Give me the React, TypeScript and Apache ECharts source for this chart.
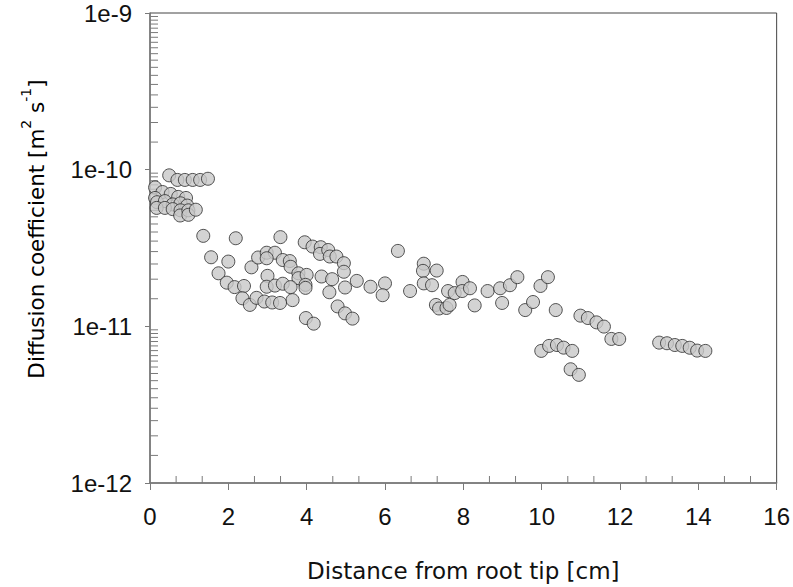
import React, { useEffect, useRef } from "react";
import * as echarts from "echarts";

// Distance from root tip [cm]
const distance: number[] = [
  0.49, 0.70, 0.89, 1.09, 1.28, 1.48,
  0.13, 0.32, 0.53, 0.72, 0.92,
  0.13, 0.18, 0.38, 0.58, 0.78, 0.95,
  0.17, 0.38, 0.58, 0.78, 0.77, 0.98, 0.98, 1.17,
  1.36, 2.19, 3.33, 1.56, 2.0, 1.75, 1.96, 2.16, 2.40, 2.36, 2.55, 2.59, 2.76, 2.98, 3.19, 2.98,
  3.39, 3.57, 3.59, 3.79, 3.79, 4.0, 3.97, 3.97, 3.0, 2.98, 3.19, 3.39, 3.59, 3.64, 2.72, 2.92,
  3.12, 3.32, 3.98, 4.18, 3.95, 4.15, 4.36, 4.34, 4.55, 4.59, 4.76, 4.95, 4.95, 4.38, 4.65, 4.98,
  4.58, 4.79, 4.98, 5.17, 5.28,
  6.33, 5.63, 6.0, 5.94, 6.64, 6.99, 6.97, 7.32, 6.99, 7.20, 7.30, 7.38, 7.57, 7.65, 7.61, 7.78,
  7.98, 7.97, 8.17, 8.29, 8.62, 8.94, 8.99, 9.19, 9.38, 9.58, 9.78, 9.97, 10.16, 10.36,
  9.99, 10.19, 10.39, 10.56, 10.78, 10.74, 10.95,
  10.99, 11.18, 11.40, 11.59, 11.78, 11.98,
  13.0, 13.2, 13.4, 13.59, 13.78, 13.97, 14.18,
];

// Diffusion coefficient [m2 s-1]
const diffusion: number[] = [
  9.2e-11, 8.6e-11, 8.6e-11, 8.6e-11, 8.6e-11, 8.75e-11,
  7.7e-11, 7.2e-11, 7.0e-11, 6.7e-11, 6.6e-11,
  6.6e-11, 6.2e-11, 6.3e-11, 6.0e-11, 6.1e-11, 5.9e-11,
  5.7e-11, 5.7e-11, 5.6e-11, 5.5e-11, 5.1e-11, 5.5e-11, 5.15e-11, 5.55e-11,
  3.78e-11, 3.65e-11, 3.71e-11, 2.76e-11, 2.59e-11, 2.18e-11, 1.90e-11, 1.78e-11, 1.81e-11, 1.51e-11, 1.37e-11, 2.38e-11, 2.75e-11, 2.95e-11, 2.95e-11, 2.72e-11,
  2.65e-11, 2.61e-11, 2.4e-11, 2.18e-11, 2.03e-11, 2.13e-11, 1.84e-11, 1.76e-11, 2.1e-11, 1.79e-11, 1.82e-11, 1.87e-11, 1.78e-11, 1.47e-11, 1.52e-11, 1.44e-11,
  1.42e-11, 1.41e-11, 1.13e-11, 1.04e-11, 3.44e-11, 3.23e-11, 3.2e-11, 2.9e-11, 3.07e-11, 2.79e-11, 2.79e-11, 2.53e-11, 2.23e-11, 2.08e-11, 2.0e-11, 1.77e-11,
  1.65e-11, 1.34e-11, 1.21e-11, 1.12e-11, 1.95e-11,
  3.03e-11, 1.79e-11, 1.88e-11, 1.58e-11, 1.68e-11, 2.51e-11, 2.26e-11, 2.27e-11, 1.88e-11, 1.83e-11, 1.37e-11, 1.30e-11, 1.31e-11, 1.37e-11, 1.68e-11, 1.63e-11,
  1.92e-11, 1.68e-11, 1.75e-11, 1.36e-11, 1.68e-11, 1.75e-11, 1.41e-11, 1.83e-11, 2.06e-11, 1.27e-11, 1.43e-11, 1.81e-11, 2.06e-11, 1.27e-11,
  6.97e-12, 7.5e-12, 7.6e-12, 7.31e-12, 6.97e-12, 5.32e-12, 4.9e-12,
  1.17e-11, 1.13e-11, 1.06e-11, 9.96e-12, 8.31e-12, 8.3e-12,
  7.87e-12, 7.8e-12, 7.6e-12, 7.5e-12, 7.3e-12, 7.0e-12, 6.97e-12,
];

// Minor tick positions
const yMinorTicks: number[] = [
  1.5e-12, 2e-12, 2.5e-12, 3e-12, 3.5e-12, 4e-12, 4.5e-12, 5e-12, 5.5e-12, 6e-12, 6.5e-12, 7e-12, 7.5e-12, 8e-12, 8.5e-12, 9e-12, 9.5e-12,
  1.5e-11, 2e-11, 2.5e-11, 3e-11, 3.5e-11, 4e-11, 4.5e-11, 5e-11, 5.5e-11, 6e-11, 6.5e-11, 7e-11, 7.5e-11, 8e-11, 8.5e-11, 9e-11, 9.5e-11,
  1.5e-10, 2e-10, 2.5e-10, 3e-10, 3.5e-10, 4e-10, 4.5e-10, 5e-10, 5.5e-10, 6e-10, 6.5e-10, 7e-10, 7.5e-10, 8e-10, 8.5e-10, 9e-10, 9.5e-10,
];
const xMinorTicks: number[] = [
  0.667, 1.333, 2.667, 3.333, 4.667, 5.333, 6.667, 7.333, 8.667, 9.333,
  10.667, 11.333, 12.667, 13.333, 14.667, 15.333,
];

const AXIS_COLOR = "#7a7a7a";
const TICK_FONT = "'Liberation Sans', Arial, sans-serif";
const TITLE_FONT = "'DejaVu Sans', Verdana, sans-serif";

export default function App() {
  const ref = useRef<HTMLDivElement>(null);
  useEffect(() => {
    document.body.style.margin = "0";
    if (!ref.current) return;
    const chart = echarts.init(ref.current, null, { renderer: "svg" });
    const points = distance.map((d, i) => [d, diffusion[i]]);
    chart.setOption({
      animation: false,
      backgroundColor: "#ffffff",
      grid: {
        left: 150,
        right: 16,
        top: 13,
        bottom: 104,
        show: true,
        borderColor: "#444",
        borderWidth: 1,
        backgroundColor: "transparent",
      },
      xAxis: {
        type: "value",
        min: 0,
        max: 16,
        interval: 2,
        name: "Distance from root tip [cm]",
        nameLocation: "middle",
        nameGap: 76,
        nameTextStyle: { fontFamily: TITLE_FONT, fontSize: 23, color: "#111" },
        axisLine: { show: true, lineStyle: { color: AXIS_COLOR, width: 1.5 } },
        axisTick: { show: true, inside: false, length: 7, lineStyle: { color: AXIS_COLOR } },
        axisLabel: { fontFamily: TICK_FONT, fontSize: 24, color: "#111", margin: 21 },
        splitLine: { show: false },
      },
      yAxis: {
        type: "log",
        logBase: 10,
        min: 1e-12,
        max: 1e-9,
        axisLine: { show: true, lineStyle: { color: AXIS_COLOR, width: 1.5 } },
        axisTick: { show: true, inside: false, length: 5, lineStyle: { color: AXIS_COLOR } },
        axisLabel: {
          fontFamily: TICK_FONT,
          fontSize: 24,
          color: "#111",
          margin: 18,
          formatter: (v: number) => "1e" + Math.round(Math.log10(v)),
        },
        splitLine: { show: false },
      },
      graphic: [
        {
          type: "text",
          x: 33,
          y: 229,
          rotation: Math.PI / 2,
          style: {
            text: "{a|Diffusion coefficient [m}{s|2}{a| s}{s|-1}{a|]}",
            align: "center",
            verticalAlign: "middle",
            rich: {
              a: { fontFamily: TITLE_FONT, fontSize: 21.5, color: "#111", lineHeight: 28, verticalAlign: "bottom" },
              s: { fontFamily: TITLE_FONT, fontSize: 14, color: "#111", lineHeight: 28, verticalAlign: "top" },
            },
          },
        },
      ],
      series: [
        {
          type: "scatter",
          data: points,
          symbol: "circle",
          symbolSize: 13,
          itemStyle: { color: "#c8c8c8", borderColor: "#2a2a2a", borderWidth: 1 },
          z: 3,
        },
        {
          type: "custom",
          data: yMinorTicks.map((v) => [0, v]),
          clip: false,
          silent: true,
          z: 2,
          renderItem: (params: any, api: any) => {
            const p = api.coord([0, api.value(1)]);
            return {
              type: "line",
              shape: { x1: p[0], y1: p[1], x2: p[0] + 8, y2: p[1] },
              style: { stroke: AXIS_COLOR, lineWidth: 1 },
            };
          },
        },
        {
          type: "custom",
          data: xMinorTicks.map((v) => [v, 1e-12]),
          clip: false,
          silent: true,
          z: 2,
          renderItem: (params: any, api: any) => {
            const p = api.coord([api.value(0), 1e-12]);
            return {
              type: "line",
              shape: { x1: p[0], y1: p[1], x2: p[0], y2: p[1] - 7 },
              style: { stroke: AXIS_COLOR, lineWidth: 1 },
            };
          },
        },
      ],
    });
    return () => chart.dispose();
  }, []);
  return <div ref={ref} style={{ width: 793, height: 587 }} />;
}
